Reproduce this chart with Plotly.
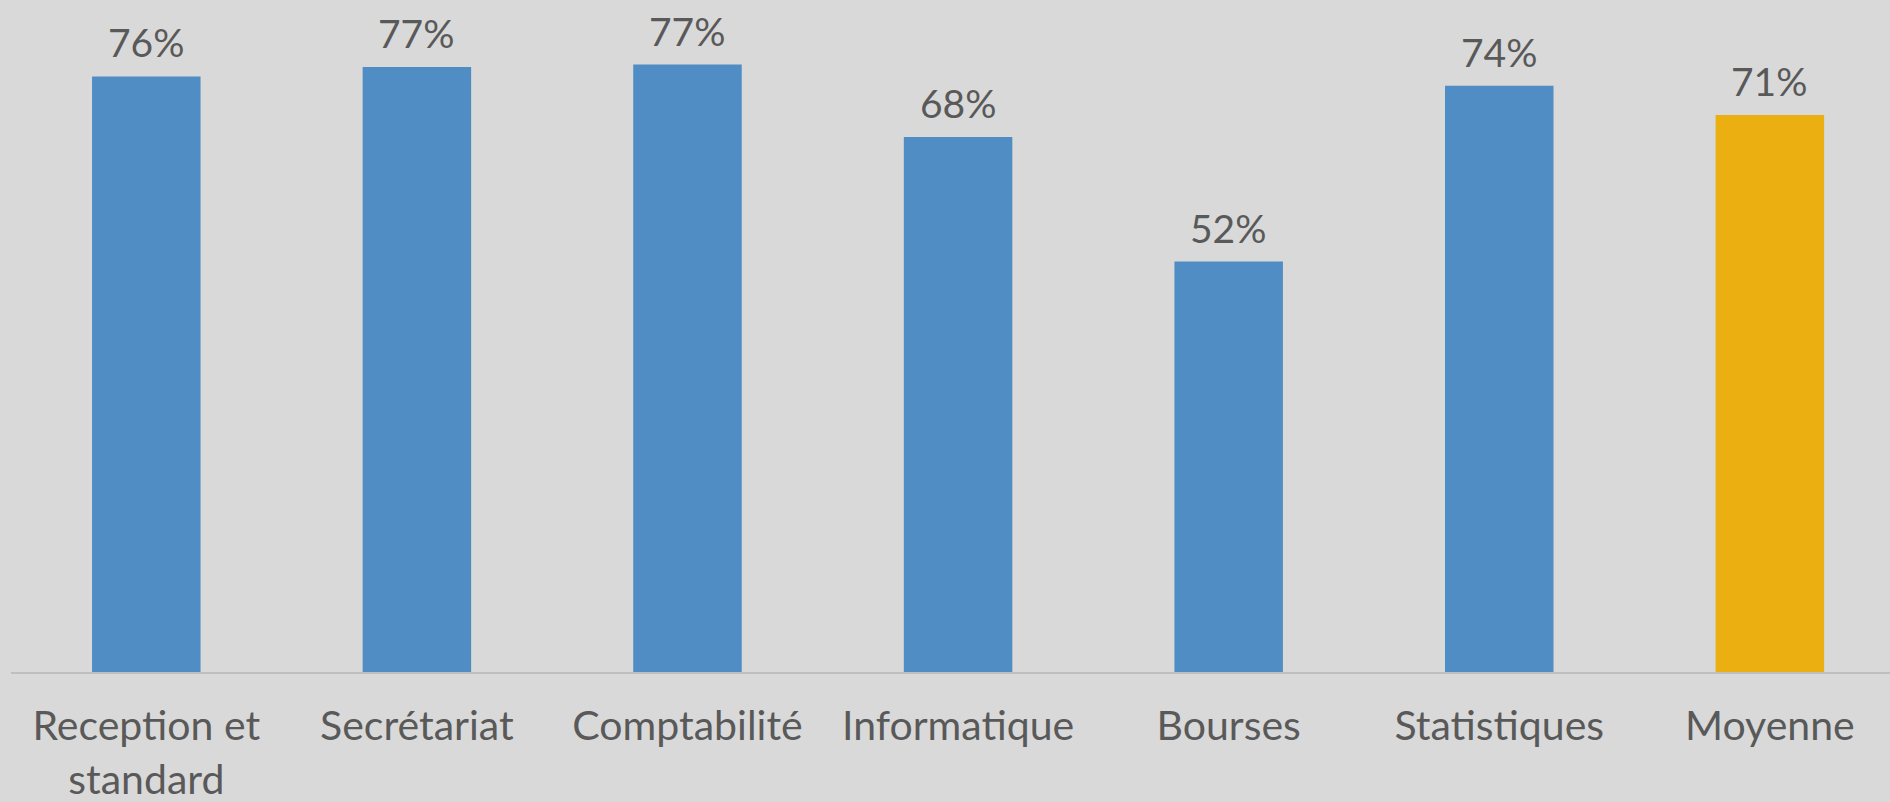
import plotly.graph_objects as go

categories = ["Reception et<br>standard", "Secrétariat", "Comptabilité", "Informatique",
              "Bourses", "Statistiques", "Moyenne"]
values = [0.756, 0.768, 0.771, 0.679, 0.521, 0.744, 0.707]
colors = ["#4f8dc4", "#4f8dc4", "#4f8dc4", "#4f8dc4", "#4f8dc4", "#4f8dc4", "#ebaf12"]

FONT = "Lato"
TXT = "#595959"

fig = go.Figure()
fig.add_trace(go.Bar(
    x=categories, y=values, marker=dict(color=colors, line=dict(width=0)),
    width=0.401, hoverinfo="skip",
))

for c, v in zip(categories, values):
    fig.add_annotation(x=c, y=v, text=f"{v:.0%}", showarrow=False,
                       yanchor="bottom", yshift=9,
                       font=dict(family=FONT, size=39, color=TXT))

fig.update_layout(
    width=1890, height=802,
    margin=dict(l=11, r=0, t=0, b=130),
    paper_bgcolor="#d9d9d9", plot_bgcolor="#d9d9d9",
    showlegend=False,
    xaxis=dict(range=[-0.5, 6.444], showgrid=False, zeroline=False,
               showline=True, linecolor="#bfbfbf", linewidth=2,
               ticks="", ticklabelstandoff=17, automargin=False,
               tickfont=dict(family=FONT, size=41, color=TXT)),
    yaxis=dict(range=[0, 0.853], visible=False, showgrid=False, zeroline=False,
               automargin=False),
)

fig.write_html("out.html", config={"displayModeBar": False},
               post_script="document.body.style.margin='0';document.body.style.overflow='hidden';")
